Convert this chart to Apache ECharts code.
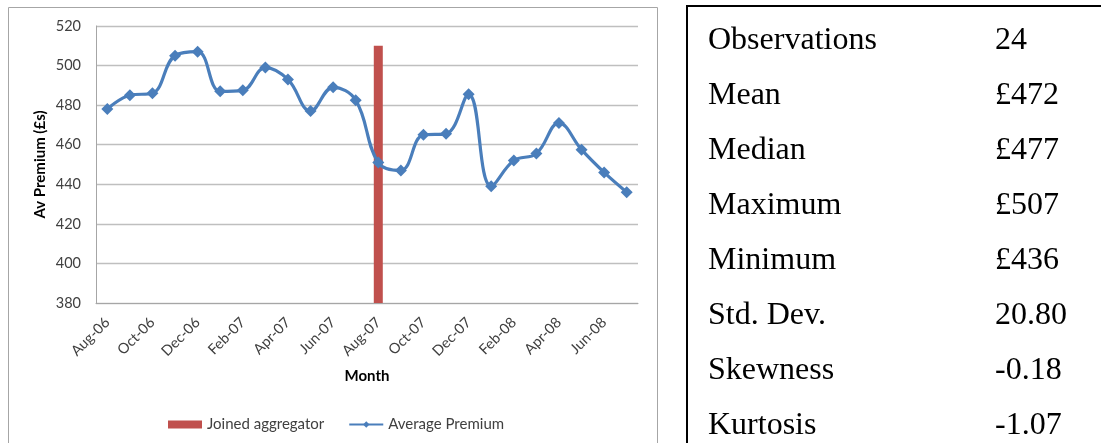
<!DOCTYPE html>
<html>
<head>
<meta charset="utf-8">
<script src="https://cdn.jsdelivr.net/npm/echarts@6/dist/echarts.min.js"></script>
<style>
html,body{margin:0;padding:0;background:#fff;}
#chart{width:1101px;height:443px;}
</style>
</head>
<body>
<div id="chart"></div>
<script>
const months = ['Aug-06','Sep-06','Oct-06','Nov-06','Dec-06','Jan-07','Feb-07','Mar-07','Apr-07','May-07','Jun-07','Jul-07',
                'Aug-07','Sep-07','Oct-07','Nov-07','Dec-07','Jan-08','Feb-08','Mar-08','Apr-08','May-08','Jun-08','Jul-08'];
const averagePremium = [478, 485, 486, 505, 507, 487, 487.5, 499, 493, 477, 489, 482.5,
                        451, 447, 465, 465.5, 485.5, 439, 452, 455.5, 471, 457.5, 446, 436];
const joinedAggregator = [null,null,null,null,null,null,null,null,null,null,null,null,
                          510,null,null,null,null,null,null,null,null,null,null,null];
const yTicks = [380, 400, 420, 440, 460, 480, 500, 520];
const statLabels = ['Observations','Mean','Median','Maximum','Minimum','Std. Dev.','Skewness','Kurtosis'];
const statValues = ['24','£472','£477','£507','£436','20.80','-0.18','-1.07'];

const chart = echarts.init(document.getElementById('chart'), null, {renderer:'canvas'});
const sans = 'Lato, "Open Sans", sans-serif';
const serif = '"Liberation Serif", "Times New Roman", serif';

const graphics = [
  {type:'polyline', silent:true, shape:{points:[[8.5,443],[8.5,7.5],[657.5,7.5],[657.5,443]]},
   style:{stroke:'#a6a6a6', lineWidth:1, fill:null}},
  {type:'polyline', silent:true, shape:{points:[[687,443],[687,6],[1101,6]]},
   style:{stroke:'#000', lineWidth:2, fill:null}}
];
statLabels.forEach((lab, i) => {
  const y = 41 + i * 54.9;
  graphics.push({type:'text', silent:true, x:708, y:y,
    style:{text:lab, font:'32px ' + serif, fill:'#000', verticalAlign:'middle', align:'left'}});
  graphics.push({type:'text', silent:true, x:995, y:y,
    style:{text:statValues[i], font:'32px ' + serif, fill:'#000', verticalAlign:'middle', align:'left'}});
});

chart.setOption({
  animation:false,
  backgroundColor:'#fff',
  grid:{left:96, right:463, top:26, bottom:140, containLabel:false},
  legend:{
    left:163, top:412, itemGap:24, itemWidth:34, itemHeight:8,
    textStyle:{fontFamily:sans, fontSize:15, color:'#404040'},
    data:[{name:'Joined aggregator', icon:'rect'}, {name:'Average Premium'}]
  },
  xAxis:{
    type:'category', data:months, boundaryGap:true,
    name:'Month', nameLocation:'middle', nameGap:66,
    nameTextStyle:{fontFamily:sans, fontSize:15, fontWeight:'bold', color:'#000'},
    axisLine:{lineStyle:{color:'#a6a6a6', width:1}},
    axisTick:{show:false},
    axisLabel:{interval:1, rotate:45, margin:17, fontFamily:sans, fontSize:14.5, color:'#404040'}
  },
  yAxis:{
    type:'value', min:yTicks[0], max:yTicks[yTicks.length-1], interval:20,
    name:'Av Premium (£s)', nameLocation:'middle', nameGap:48,
    nameTextStyle:{fontFamily:sans, fontSize:15, fontWeight:'bold', color:'#000'},
    axisLine:{show:true, lineStyle:{color:'#a6a6a6', width:1}},
    axisTick:{show:false},
    splitLine:{lineStyle:{color:'#bfbfbf', width:1.3}},
    axisLabel:{margin:15, fontFamily:sans, fontSize:14.5, color:'#404040'}
  },
  series:[
    {name:'Joined aggregator', type:'bar', data:joinedAggregator, barWidth:9,
     itemStyle:{color:'#c0504d'}, z:1},
    {name:'Average Premium', type:'line', data:averagePremium, smooth:0.4,
     symbol:'diamond', symbolSize:12,
     lineStyle:{color:'#4a7ebb', width:3.2},
     itemStyle:{color:'#4a7ebb'}, z:3}
  ],
  graphic:graphics
});
</script>
</body>
</html>
